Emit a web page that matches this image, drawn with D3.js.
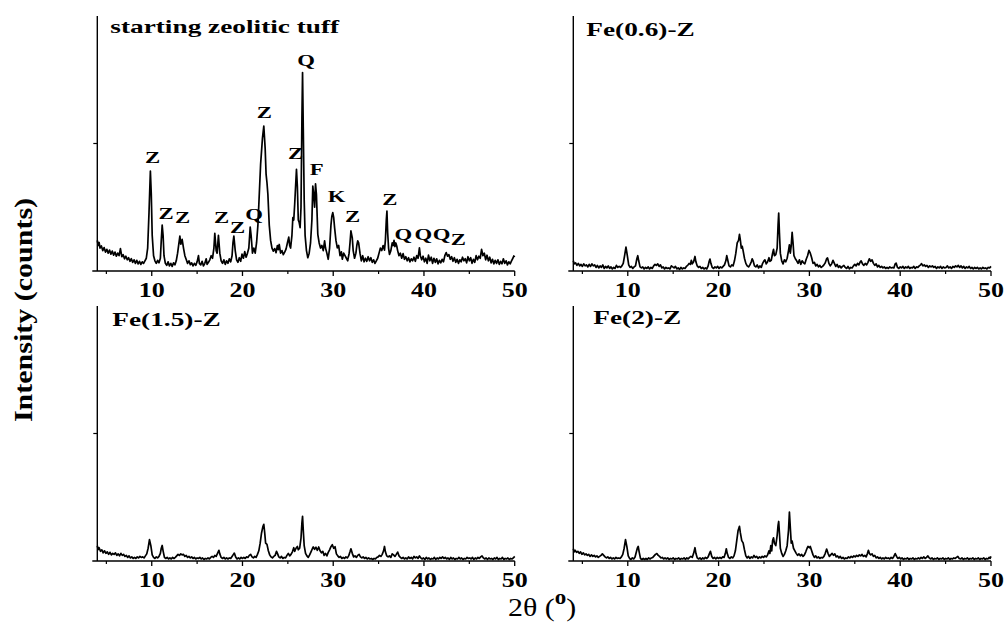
<!DOCTYPE html>
<html><head><meta charset="utf-8">
<script src="https://cdn.jsdelivr.net/npm/d3@7"></script>
<style>
body{margin:0;background:#fff}
svg{display:block}
text{font-family:"Liberation Serif","Times New Roman",serif;fill:#000}
</style>
</head><body>
<svg id="chart" width="1007" height="626"></svg>
<script>
// ---------- DATA (2θ in degrees, intensity in arbitrary counts 0-1000) ----------
const panelTitles = ["starting zeolitic tuff", "Fe(0.6)-Z", "Fe(1.5)-Z", "Fe(2)-Z"];
const xTickValues = [10, 20, 30, 40, 50];
const xMinorTicks = [5, 15, 25, 35, 45];

const tuffPattern = [[4.0,120],[4.1,100],[4.2,112],[4.3,90],[4.45,98],[4.6,80],[4.75,92],[4.9,74],[5.05,85],[5.2,70],[5.35,82],[5.5,66],[5.65,78],[5.8,62],[5.95,74],[6.1,58],[6.25,70],[6.4,60],[6.55,88],[6.7,56],[6.85,64],[7.0,48],[7.15,58],[7.3,44],[7.45,52],[7.6,38],[7.75,48],[7.9,34],[8.05,44],[8.2,30],[8.35,42],[8.5,28],[8.65,38],[8.8,26],[8.95,36],[9.1,30],[9.25,40],[9.4,50],[9.55,90],[9.7,230],[9.85,392],[9.95,300],[10.05,140],[10.2,60],[10.35,40],[10.5,30],[10.65,42],[10.8,32],[10.95,50],[11.05,120],[11.15,180],[11.25,140],[11.35,60],[11.5,30],[11.65,22],[11.8,36],[11.95,20],[12.1,30],[12.25,18],[12.4,32],[12.55,24],[12.7,40],[12.85,70],[13.0,110],[13.1,137],[13.2,105],[13.35,124],[13.5,90],[13.65,60],[13.8,45],[13.95,30],[14.1,40],[14.25,25],[14.4,32],[14.55,20],[14.7,30],[14.85,22],[15.0,36],[15.15,60],[15.25,30],[15.4,24],[15.55,38],[15.7,20],[15.85,30],[16.0,48],[16.1,26],[16.25,34],[16.4,44],[16.55,60],[16.7,50],[16.85,90],[16.95,148],[17.1,80],[17.2,70],[17.35,140],[17.5,70],[17.65,40],[17.8,30],[17.95,44],[18.1,26],[18.25,40],[18.4,30],[18.55,48],[18.7,36],[18.85,60],[18.95,110],[19.05,137],[19.2,80],[19.35,44],[19.5,34],[19.65,52],[19.8,38],[19.95,66],[20.1,50],[20.25,76],[20.4,54],[20.55,70],[20.7,90],[20.85,172],[20.95,140],[21.1,70],[21.25,90],[21.4,70],[21.55,110],[21.7,180],[21.85,300],[22.0,420],[22.2,520],[22.35,568],[22.5,480],[22.6,380],[22.7,346],[22.8,300],[22.95,180],[23.1,120],[23.25,90],[23.4,78],[23.55,88],[23.7,72],[23.85,100],[23.95,84],[24.05,104],[24.2,70],[24.35,80],[24.5,64],[24.65,74],[24.8,86],[24.95,110],[25.1,133],[25.2,100],[25.3,90],[25.45,140],[25.55,209],[25.65,200],[25.75,260],[25.85,330],[25.95,399],[26.05,330],[26.15,200],[26.25,190],[26.35,170],[26.45,250],[26.55,600],[26.62,778],[26.7,560],[26.8,280],[26.9,140],[27.05,80],[27.2,52],[27.35,70],[27.5,110],[27.65,200],[27.75,333],[27.85,300],[27.95,250],[28.05,342],[28.15,300],[28.3,144],[28.45,110],[28.6,90],[28.75,100],[28.9,80],[29.05,118],[29.15,90],[29.3,70],[29.45,46],[29.6,90],[29.75,180],[29.85,215],[29.95,229],[30.05,210],[30.15,170],[30.3,120],[30.45,91],[30.6,100],[30.75,60],[30.9,75],[31.0,46],[31.15,70],[31.3,60],[31.45,50],[31.6,40],[31.75,70],[31.85,110],[31.95,157],[32.1,130],[32.2,80],[32.35,50],[32.5,70],[32.6,100],[32.7,118],[32.8,110],[32.95,70],[33.1,40],[33.25,60],[33.4,36],[33.55,50],[33.7,38],[33.85,56],[34.0,40],[34.15,52],[34.3,34],[34.45,44],[34.6,30],[34.75,40],[34.9,50],[35.05,70],[35.2,90],[35.35,80],[35.5,100],[35.65,82],[35.75,120],[35.85,200],[35.92,235],[36.0,150],[36.1,90],[36.2,65],[36.35,80],[36.5,110],[36.6,100],[36.7,120],[36.8,96],[36.9,110],[37.0,98],[37.1,80],[37.25,60],[37.4,70],[37.55,50],[37.7,68],[37.85,46],[38.0,56],[38.15,40],[38.3,52],[38.45,36],[38.6,48],[38.75,40],[38.9,54],[39.05,38],[39.2,60],[39.35,50],[39.5,91],[39.6,60],[39.75,44],[39.9,58],[40.05,36],[40.2,50],[40.35,30],[40.5,62],[40.65,40],[40.8,54],[40.95,30],[41.1,50],[41.25,34],[41.4,48],[41.55,28],[41.7,42],[41.85,32],[42.0,46],[42.15,36],[42.3,60],[42.45,72],[42.6,58],[42.75,64],[42.9,46],[43.05,56],[43.2,38],[43.35,52],[43.5,34],[43.65,46],[43.8,30],[43.95,44],[44.1,36],[44.25,54],[44.4,40],[44.55,48],[44.7,32],[44.85,56],[45.0,40],[45.15,52],[45.3,30],[45.45,46],[45.6,34],[45.75,60],[45.9,44],[46.05,58],[46.2,50],[46.35,85],[46.5,60],[46.65,70],[46.8,44],[46.95,62],[47.1,40],[47.25,54],[47.4,32],[47.55,46],[47.7,28],[47.85,42],[48.0,30],[48.15,44],[48.3,26],[48.45,38],[48.6,28],[48.75,48],[48.9,30],[49.05,40],[49.2,24],[49.35,36],[49.5,28],[49.65,40],[49.8,50],[49.9,59],[50.0,55]];

const fe06Pattern = [[4.0,40],[4.1,28],[4.25,32],[4.4,22],[4.55,30],[4.7,20],[4.85,26],[5.0,18],[5.15,28],[5.3,20],[5.45,24],[5.6,16],[5.75,26],[5.9,18],[6.05,28],[6.2,20],[6.35,24],[6.5,14],[6.65,22],[6.8,12],[6.95,20],[7.1,14],[7.25,24],[7.4,10],[7.55,18],[7.7,12],[7.85,20],[8.0,10],[8.15,16],[8.3,8],[8.45,14],[8.6,10],[8.75,22],[8.9,14],[9.05,18],[9.2,14],[9.35,20],[9.5,30],[9.65,60],[9.8,94],[9.95,60],[10.1,24],[10.25,14],[10.4,18],[10.55,10],[10.7,16],[10.85,20],[11.0,48],[11.1,60],[11.2,40],[11.35,16],[11.5,12],[11.65,16],[11.8,8],[11.95,14],[12.1,10],[12.25,16],[12.4,8],[12.55,14],[12.7,10],[12.85,20],[13.0,26],[13.15,22],[13.3,28],[13.45,18],[13.6,24],[13.75,12],[13.9,16],[14.05,8],[14.2,14],[14.35,10],[14.5,12],[14.65,8],[14.8,20],[14.95,16],[15.1,12],[15.25,18],[15.4,8],[15.55,12],[15.7,6],[15.85,14],[16.0,8],[16.15,12],[16.3,10],[16.45,18],[16.6,22],[16.75,30],[16.9,26],[17.0,42],[17.1,28],[17.25,36],[17.4,57],[17.5,36],[17.65,20],[17.8,14],[17.95,18],[18.1,10],[18.25,14],[18.4,8],[18.55,12],[18.7,8],[18.85,20],[18.95,36],[19.05,47],[19.15,30],[19.3,14],[19.45,10],[19.6,16],[19.75,12],[19.9,18],[20.05,10],[20.2,16],[20.35,12],[20.5,18],[20.65,24],[20.8,40],[20.9,60],[21.0,44],[21.15,20],[21.3,16],[21.45,24],[21.6,20],[21.75,40],[21.9,70],[22.05,110],[22.2,120],[22.3,144],[22.4,120],[22.5,90],[22.6,97],[22.7,80],[22.85,50],[23.0,30],[23.15,20],[23.3,16],[23.45,24],[23.6,36],[23.7,48],[23.8,40],[23.95,20],[24.1,16],[24.25,24],[24.4,12],[24.55,20],[24.7,14],[24.85,30],[25.0,40],[25.1,44],[25.25,28],[25.4,36],[25.55,52],[25.65,38],[25.8,42],[25.95,70],[26.05,85],[26.15,60],[26.3,64],[26.45,90],[26.55,180],[26.62,227],[26.7,150],[26.8,70],[26.95,40],[27.1,28],[27.25,44],[27.4,36],[27.55,50],[27.7,80],[27.8,103],[27.9,70],[28.0,100],[28.1,152],[28.2,110],[28.3,60],[28.45,48],[28.6,40],[28.75,30],[28.9,44],[29.05,26],[29.2,40],[29.35,32],[29.5,28],[29.65,46],[29.8,60],[29.95,81],[30.1,70],[30.25,52],[30.4,30],[30.55,34],[30.7,20],[30.85,26],[31.0,16],[31.15,22],[31.3,14],[31.45,18],[31.6,24],[31.75,32],[31.9,48],[32.0,51],[32.15,30],[32.3,20],[32.45,28],[32.6,42],[32.75,30],[32.9,18],[33.05,26],[33.2,14],[33.35,20],[33.5,12],[33.65,18],[33.8,22],[33.95,14],[34.1,10],[34.25,18],[34.4,8],[34.55,14],[34.7,12],[34.85,20],[35.0,26],[35.15,20],[35.3,30],[35.45,24],[35.6,36],[35.7,40],[35.85,28],[36.0,22],[36.15,30],[36.3,24],[36.45,34],[36.6,48],[36.75,38],[36.9,44],[37.05,30],[37.2,22],[37.35,28],[37.5,16],[37.65,22],[37.8,14],[37.95,18],[38.1,12],[38.25,16],[38.4,10],[38.55,14],[38.7,10],[38.85,16],[39.0,12],[39.15,14],[39.3,12],[39.45,28],[39.55,31],[39.7,14],[39.85,10],[40.0,16],[40.15,12],[40.3,18],[40.45,10],[40.6,16],[40.75,12],[40.9,18],[41.05,10],[41.2,14],[41.35,12],[41.5,18],[41.65,10],[41.8,16],[41.95,14],[42.1,20],[42.25,24],[42.35,29],[42.5,20],[42.65,24],[42.8,18],[42.95,22],[43.1,14],[43.25,20],[43.4,16],[43.55,20],[43.7,14],[43.85,18],[44.0,10],[44.15,16],[44.3,12],[44.45,18],[44.6,10],[44.75,16],[44.9,12],[45.05,14],[45.2,20],[45.35,12],[45.5,16],[45.65,10],[45.8,18],[45.95,14],[46.1,20],[46.25,16],[46.4,22],[46.55,14],[46.7,20],[46.85,12],[47.0,18],[47.15,10],[47.3,16],[47.45,12],[47.6,18],[47.75,10],[47.9,14],[48.05,8],[48.2,14],[48.35,10],[48.5,14],[48.65,8],[48.8,12],[48.95,8],[49.1,14],[49.25,10],[49.4,12],[49.55,8],[49.7,14],[49.85,12],[50.0,18]];

const fe15Pattern = [[4.0,60],[4.1,45],[4.2,52],[4.35,38],[4.5,44],[4.65,32],[4.8,40],[4.95,30],[5.1,36],[5.25,26],[5.4,34],[5.55,24],[5.7,30],[5.85,26],[6.0,32],[6.15,22],[6.3,28],[6.45,20],[6.6,30],[6.75,22],[6.9,26],[7.05,18],[7.2,22],[7.35,14],[7.5,20],[7.65,12],[7.8,16],[7.95,10],[8.1,14],[8.25,10],[8.4,16],[8.55,12],[8.7,18],[8.85,14],[9.0,16],[9.15,12],[9.3,20],[9.45,28],[9.6,50],[9.75,84],[9.9,60],[10.05,24],[10.2,14],[10.35,10],[10.5,16],[10.65,12],[10.8,18],[10.95,30],[11.05,50],[11.15,61],[11.25,40],[11.4,14],[11.55,10],[11.7,14],[11.85,8],[12.0,12],[12.15,8],[12.3,14],[12.45,10],[12.6,14],[12.75,20],[12.9,26],[13.05,22],[13.2,28],[13.35,24],[13.5,26],[13.65,18],[13.8,22],[13.95,14],[14.1,18],[14.25,12],[14.4,16],[14.55,10],[14.7,14],[14.85,8],[15.0,12],[15.15,10],[15.3,14],[15.45,8],[15.6,12],[15.75,6],[15.9,10],[16.05,8],[16.2,12],[16.35,8],[16.5,14],[16.65,18],[16.8,14],[16.95,22],[17.1,18],[17.25,30],[17.4,42],[17.5,28],[17.65,14],[17.8,10],[17.95,14],[18.1,8],[18.25,12],[18.4,8],[18.55,12],[18.7,10],[18.85,18],[19.0,26],[19.1,31],[19.25,16],[19.4,8],[19.55,12],[19.7,8],[19.85,14],[20.0,10],[20.15,14],[20.3,10],[20.45,16],[20.6,14],[20.75,22],[20.9,26],[21.05,16],[21.2,12],[21.35,18],[21.5,14],[21.65,26],[21.8,40],[21.95,70],[22.1,110],[22.25,135],[22.35,144],[22.45,110],[22.55,70],[22.7,65],[22.85,40],[23.0,24],[23.15,16],[23.3,12],[23.45,18],[23.6,22],[23.75,38],[23.85,30],[24.0,16],[24.15,12],[24.3,18],[24.45,10],[24.6,14],[24.75,12],[24.9,22],[25.05,30],[25.2,20],[25.35,26],[25.5,36],[25.65,52],[25.75,38],[25.9,50],[26.05,57],[26.15,44],[26.3,50],[26.45,90],[26.55,150],[26.62,175],[26.7,120],[26.8,60],[26.95,30],[27.1,20],[27.25,14],[27.4,24],[27.55,36],[27.7,48],[27.8,55],[27.95,46],[28.1,54],[28.25,42],[28.4,55],[28.55,40],[28.7,32],[28.85,38],[29.0,22],[29.15,30],[29.3,20],[29.45,34],[29.6,44],[29.75,56],[29.9,64],[30.05,50],[30.2,56],[30.35,28],[30.5,20],[30.65,14],[30.8,18],[30.95,10],[31.1,14],[31.25,10],[31.4,16],[31.55,12],[31.7,20],[31.85,36],[31.95,48],[32.1,30],[32.25,16],[32.4,20],[32.55,14],[32.7,22],[32.85,26],[33.0,16],[33.15,12],[33.3,16],[33.45,10],[33.6,14],[33.75,8],[33.9,12],[34.05,8],[34.2,10],[34.35,6],[34.5,10],[34.65,8],[34.8,14],[34.95,16],[35.1,22],[35.25,18],[35.4,26],[35.55,40],[35.65,57],[35.75,36],[35.9,20],[36.05,16],[36.2,20],[36.35,14],[36.5,28],[36.65,24],[36.8,18],[36.95,26],[37.1,35],[37.25,20],[37.4,14],[37.55,10],[37.7,14],[37.85,8],[38.0,12],[38.15,8],[38.3,16],[38.45,10],[38.6,14],[38.75,8],[38.9,18],[39.05,12],[39.2,16],[39.35,10],[39.5,20],[39.65,12],[39.8,8],[39.95,12],[40.1,6],[40.25,14],[40.4,8],[40.55,12],[40.7,6],[40.85,10],[41.0,8],[41.15,14],[41.3,6],[41.45,12],[41.6,8],[41.75,14],[41.9,10],[42.05,16],[42.2,10],[42.35,14],[42.5,8],[42.65,12],[42.8,6],[42.95,14],[43.1,8],[43.25,12],[43.4,6],[43.55,10],[43.7,8],[43.85,14],[44.0,8],[44.15,12],[44.3,6],[44.45,10],[44.6,8],[44.75,14],[44.9,10],[45.05,12],[45.2,8],[45.35,14],[45.5,6],[45.65,12],[45.8,8],[45.95,14],[46.1,10],[46.25,16],[46.4,20],[46.55,12],[46.7,8],[46.85,12],[47.0,6],[47.15,12],[47.3,8],[47.45,10],[47.6,6],[47.75,12],[47.9,8],[48.05,14],[48.2,6],[48.35,10],[48.5,8],[48.65,14],[48.8,6],[48.95,10],[49.1,8],[49.25,12],[49.4,6],[49.55,10],[49.7,8],[49.85,12],[50.0,18]];

const fe2Pattern = [[4.0,48],[4.1,36],[4.2,42],[4.35,34],[4.5,38],[4.65,30],[4.8,36],[4.95,26],[5.1,32],[5.25,24],[5.4,28],[5.55,22],[5.7,26],[5.85,18],[6.0,24],[6.15,18],[6.3,22],[6.45,16],[6.6,20],[6.75,14],[6.9,18],[7.05,22],[7.2,28],[7.35,22],[7.5,16],[7.65,12],[7.8,16],[7.95,10],[8.1,14],[8.25,8],[8.4,12],[8.55,8],[8.7,14],[8.85,10],[9.0,12],[9.15,10],[9.3,16],[9.45,26],[9.6,50],[9.75,84],[9.9,56],[10.05,20],[10.2,10],[10.35,6],[10.5,12],[10.65,8],[10.8,16],[10.95,36],[11.05,50],[11.15,57],[11.25,36],[11.4,10],[11.55,6],[11.7,10],[11.85,6],[12.0,10],[12.15,6],[12.3,12],[12.45,8],[12.6,12],[12.75,14],[12.9,20],[13.05,26],[13.2,29],[13.35,22],[13.5,18],[13.65,12],[13.8,14],[13.95,8],[14.1,12],[14.25,8],[14.4,12],[14.55,6],[14.7,10],[14.85,8],[15.0,12],[15.15,6],[15.3,10],[15.45,8],[15.6,12],[15.75,6],[15.9,10],[16.05,8],[16.2,12],[16.35,6],[16.5,12],[16.65,8],[16.8,14],[16.95,18],[17.1,14],[17.25,30],[17.4,52],[17.5,30],[17.65,12],[17.8,8],[17.95,12],[18.1,6],[18.25,12],[18.4,8],[18.55,14],[18.7,10],[18.85,16],[19.0,30],[19.1,38],[19.25,18],[19.4,10],[19.55,14],[19.7,8],[19.85,14],[20.0,10],[20.15,14],[20.3,10],[20.45,16],[20.6,14],[20.75,30],[20.85,48],[20.95,30],[21.1,14],[21.25,10],[21.4,16],[21.55,12],[21.7,20],[21.85,40],[22.0,80],[22.15,120],[22.3,136],[22.4,110],[22.55,80],[22.7,71],[22.85,44],[23.0,20],[23.15,12],[23.3,18],[23.45,10],[23.6,16],[23.75,12],[23.9,22],[24.05,14],[24.2,18],[24.35,10],[24.5,16],[24.65,12],[24.8,18],[24.95,14],[25.1,20],[25.25,16],[25.4,24],[25.55,40],[25.65,30],[25.75,60],[25.85,40],[25.95,80],[26.05,91],[26.15,70],[26.3,60],[26.45,100],[26.55,140],[26.62,155],[26.7,110],[26.8,50],[26.95,30],[27.1,18],[27.25,26],[27.4,40],[27.55,60],[27.7,120],[27.8,192],[27.9,130],[28.0,70],[28.1,78],[28.25,50],[28.4,40],[28.55,30],[28.7,22],[28.85,28],[29.0,20],[29.15,26],[29.3,18],[29.45,24],[29.6,36],[29.75,50],[29.85,57],[30.0,52],[30.1,57],[30.25,40],[30.4,24],[30.55,14],[30.7,20],[30.85,12],[31.0,16],[31.15,10],[31.3,14],[31.45,12],[31.6,18],[31.75,30],[31.9,47],[32.05,30],[32.2,18],[32.35,24],[32.5,30],[32.65,22],[32.8,28],[32.95,16],[33.1,20],[33.25,12],[33.4,18],[33.55,10],[33.7,14],[33.85,8],[34.0,12],[34.15,10],[34.3,16],[34.45,12],[34.6,18],[34.75,14],[34.9,20],[35.05,16],[35.2,22],[35.35,18],[35.5,24],[35.65,20],[35.8,26],[35.95,18],[36.1,22],[36.25,16],[36.4,30],[36.5,42],[36.6,30],[36.75,24],[36.9,28],[37.05,18],[37.2,22],[37.35,12],[37.5,16],[37.65,10],[37.8,14],[37.95,8],[38.1,12],[38.25,8],[38.4,14],[38.55,10],[38.7,12],[38.85,8],[39.0,14],[39.15,10],[39.3,18],[39.45,29],[39.6,18],[39.75,10],[39.9,14],[40.05,8],[40.2,12],[40.35,6],[40.5,10],[40.65,8],[40.8,12],[40.95,6],[41.1,10],[41.25,8],[41.4,12],[41.55,6],[41.7,10],[41.85,8],[42.0,12],[42.15,8],[42.3,14],[42.45,10],[42.6,16],[42.75,10],[42.9,14],[43.05,20],[43.2,12],[43.35,8],[43.5,12],[43.65,6],[43.8,10],[43.95,8],[44.1,12],[44.25,6],[44.4,10],[44.55,8],[44.7,12],[44.85,6],[45.0,10],[45.15,8],[45.3,12],[45.45,6],[45.6,10],[45.75,8],[45.9,12],[46.05,10],[46.2,14],[46.35,18],[46.5,10],[46.65,8],[46.8,12],[46.95,6],[47.1,10],[47.25,8],[47.4,12],[47.55,6],[47.7,10],[47.85,8],[48.0,12],[48.15,6],[48.3,10],[48.45,8],[48.6,12],[48.75,6],[48.9,10],[49.05,8],[49.2,12],[49.35,6],[49.5,10],[49.65,8],[49.8,14],[49.9,10],[50.0,18]];

// phase annotations on the starting tuff (Z zeolite, Q quartz, F feldspar, K kaolinite)
const peakLetters = ["Z","Z","Z","Z","Z","Q","Z","Z","Q","F","K","Z","Z","Q","Q","Q","Z"];
const peakAngles  = [10.1,11.57,13.41,17.71,19.47,21.27,22.40,25.86,27.0,28.18,30.38,32.14,36.25,37.72,39.92,41.95,43.78];
const peakLevels  = [424,204,188,188,149,200,600,439,804,376,271,192,259,122,122,122,102];

// ---------- LAYOUT ----------
const svg = d3.select("#chart");
const colRange = [[97.3, 514.7], [573.3, 991]];
const rowRange = [[271, 16], [561, 306]];
const panels = [
  {title: panelTitles[0], data: tuffPattern, col: 0, row: 0, tdx: 13, tdy: 17, ann: true},
  {title: panelTitles[1], data: fe06Pattern, col: 1, row: 0, tdx: 13, tdy: 20},
  {title: panelTitles[2], data: fe15Pattern, col: 0, row: 1, tdx: 15, tdy: 20},
  {title: panelTitles[3], data: fe2Pattern, col: 1, row: 1, tdx: 20, tdy: 18}
];
const SX = 1.4; // horizontal stretch of the original lettering

panels.forEach(p => {
  const x = d3.scaleLinear().domain([4, 50]).range(colRange[p.col]);
  const y = d3.scaleLinear().domain([0, 1000]).range(rowRange[p.row]);
  const g = svg.append("g");
  const y0 = y(0), x0 = x(4);

  g.append("line").attr("x1", x0 - 5).attr("x2", x(50)).attr("y1", y0).attr("y2", y0)
    .attr("stroke", "#000").attr("stroke-width", 1.4);
  g.append("line").attr("x1", x0).attr("x2", x0).attr("y1", y(0)).attr("y2", y(1000))
    .attr("stroke", "#000").attr("stroke-width", 1.4);
  g.append("line").attr("x1", x0 - 4).attr("x2", x0).attr("y1", y(500)).attr("y2", y(500))
    .attr("stroke", "#000").attr("stroke-width", 1.2);
  g.selectAll(".maj").data(xTickValues).enter().append("line")
    .attr("x1", d => x(d)).attr("x2", d => x(d)).attr("y1", y0).attr("y2", y0 + 5)
    .attr("stroke", "#000").attr("stroke-width", 1.3);
  g.selectAll(".min").data(xMinorTicks).enter().append("line")
    .attr("x1", d => x(d)).attr("x2", d => x(d)).attr("y1", y0).attr("y2", y0 + 3)
    .attr("stroke", "#000").attr("stroke-width", 1.2);
  g.selectAll(".tl").data(xTickValues).enter().append("text")
    .attr("transform", d => `translate(${x(d)},${y0 + 26}) scale(1.3,1)`)
    .attr("text-anchor", "middle").attr("font-weight", "bold").attr("font-size", 20)
    .text(d => d);

  const line = d3.line().x(d => x(d[0])).y(d => y(d[1]));
  g.append("path").datum(p.data).attr("d", line)
    .attr("fill", "none").attr("stroke", "#000").attr("stroke-width", 1.7)
    .attr("stroke-linejoin", "round");

  g.append("text")
    .attr("transform", `translate(${x0 + p.tdx},${y(1000) + p.tdy}) scale(${SX},1)`)
    .attr("font-weight", "bold").attr("font-size", 19.5).text(p.title);

  if (p.ann) {
    g.selectAll(".pk").data(peakLetters).enter().append("text")
      .attr("transform", (d, i) => `translate(${x(peakAngles[i])},${y(peakLevels[i])}) scale(1.3,1)`)
      .attr("text-anchor", "middle").attr("font-weight", "bold").attr("font-size", 17.5)
      .text(d => d);
  }
});

svg.append("text")
  .attr("transform", "translate(32,310) rotate(-90) scale(1.2,1)")
  .attr("text-anchor", "middle").attr("font-weight", "bold").attr("font-size", 25)
  .text("Intensity (counts)");

const xt = svg.append("text")
  .attr("transform", "translate(508,616) scale(1.15,1)")
  .attr("font-size", 26);
xt.append("tspan").text("2θ (");
xt.append("tspan").attr("font-weight", "bold").attr("font-size", 20).attr("dy", -12).text("o");
xt.append("tspan").attr("dy", 12).text(")");
</script>
</body></html>
